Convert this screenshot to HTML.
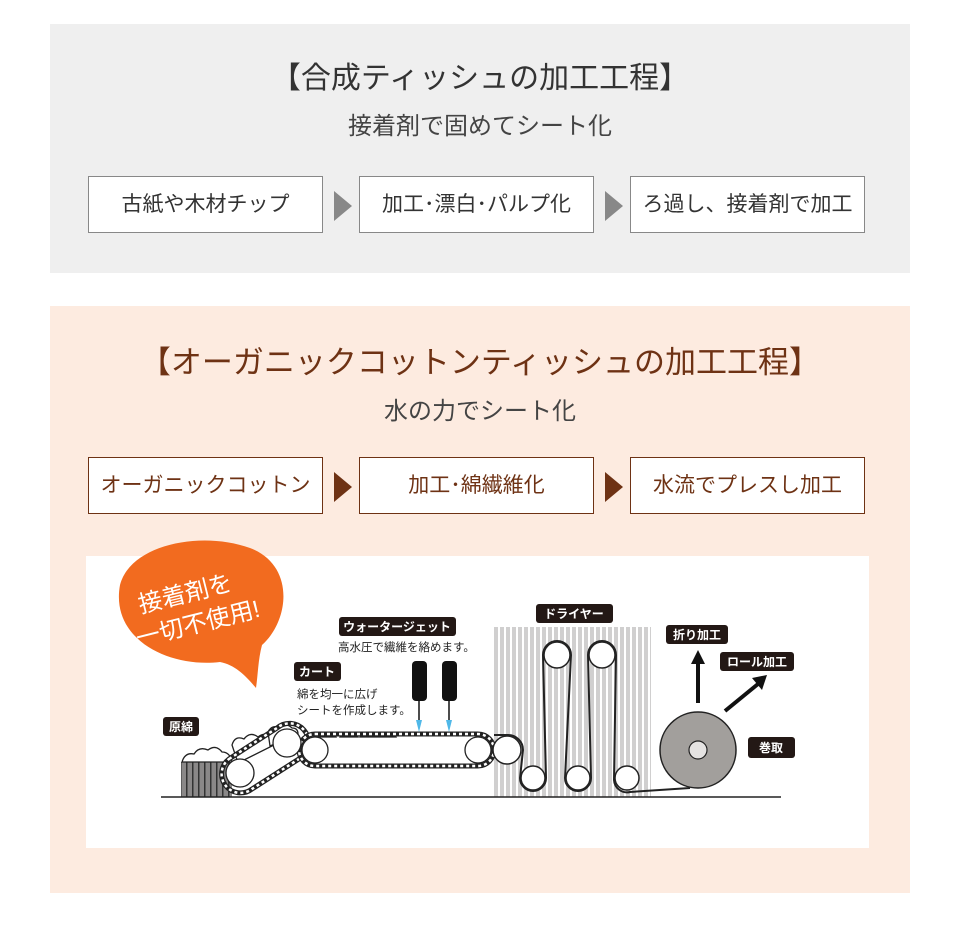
<!DOCTYPE html>
<html><head><meta charset="utf-8"><style>
html,body{margin:0;padding:0;background:#fff;}
body{width:960px;height:947px;position:relative;overflow:hidden;font-family:"Liberation Sans","Noto Sans CJK JP",sans-serif;}
.panel{position:absolute;left:50px;width:860px;}
.t{position:absolute;left:0;width:100%;text-align:center;white-space:nowrap;}
.box{position:absolute;width:235px;height:57px;background:#fff;box-sizing:border-box;text-align:center;line-height:55px;font-size:21px;white-space:nowrap;}
.tri{position:absolute;width:0;height:0;border-top:15px solid transparent;border-bottom:15px solid transparent;border-left:18px solid #888;}
</style></head><body>
<div class="panel" style="top:24px;height:249px;background:#efefef;">
  <div class="t" style="top:29px;font-size:30px;color:#333;">【合成ティッシュの加工工程】</div>
  <div class="t" style="top:82px;font-size:24px;color:#444;">接着剤で固めてシート化</div>
  <div class="box" style="left:38px;top:152px;border:1px solid #888;color:#333;">古紙や木材チップ</div>
  <div class="tri" style="left:284px;top:167px;"></div>
  <div class="box" style="left:309px;top:152px;border:1px solid #888;color:#333;">加工･漂白･パルプ化</div>
  <div class="tri" style="left:555px;top:167px;"></div>
  <div class="box" style="left:580px;top:152px;border:1px solid #888;color:#333;">ろ過し、接着剤で加工</div>
</div>
<div class="panel" style="top:306px;height:587px;background:#fdebe0;">
  <div class="t" style="top:31px;font-size:31px;color:#6e3214;">【オーガニックコットンティッシュの加工工程】</div>
  <div class="t" style="top:85px;font-size:24px;color:#444;">水の力でシート化</div>
  <div class="box" style="left:38px;top:151px;border:1px solid #6e3214;color:#6e3214;">オーガニックコットン</div>
  <div class="tri" style="left:284px;top:166px;border-left-color:#6e3214;"></div>
  <div class="box" style="left:309px;top:151px;border:1px solid #6e3214;color:#6e3214;">加工･綿繊維化</div>
  <div class="tri" style="left:555px;top:166px;border-left-color:#6e3214;"></div>
  <div class="box" style="left:580px;top:151px;border:1px solid #6e3214;color:#6e3214;">水流でプレスし加工</div>
  <div style="position:absolute;left:36px;top:250px;width:783px;height:292px;background:#fff;"></div>
</div>
<svg width="960" height="947" style="position:absolute;left:0;top:0" font-family="Liberation Sans, Noto Sans CJK JP, sans-serif">
  <defs>
    <pattern id="st" width="6" height="10" patternUnits="userSpaceOnUse"><rect width="6" height="10" fill="#d0cfcf"/><rect width="2" height="10" fill="#fff"/></pattern>
    <pattern id="st2" width="6" height="10" patternUnits="userSpaceOnUse"><rect width="6" height="10" fill="#8a8888"/><rect width="1.5" height="10" fill="#333"/></pattern>
  </defs>
  <path d="M120,585 C130,545 200,530 250,548 C295,565 290,620 262,645 C258,660 258,675 256,688 C245,675 235,665 220,662 C170,668 110,640 120,585 Z" fill="#f26b1f"/>
  <g transform="rotate(-14 195 612)" fill="#fff" font-size="24" text-anchor="middle">
    <text x="190" y="600">接着剤を</text>
    <text x="195" y="632">一切不使用!</text>
  </g>
  <rect x="493" y="627" width="158" height="170" fill="url(#st)"/>
  <rect x="181" y="762" width="51" height="35" fill="url(#st2)"/>
  <g fill="#fff" stroke="#222" stroke-width="1.3">
    <path d="M182,762 q3,-10 12,-8 q5,-8 14,-4 q8,-6 14,2 q8,0 10,10 z"/>
    <path d="M232,745 q3,-10 12,-6 q6,-8 14,-2 q8,-6 12,2 q6,0 8,4 l-40,20z"/>
    <path d="M268,732 q4,-8 12,-4 q6,-6 12,0 q6,0 6,6 l-28,12z"/>
    <path d="M318,737 q3,-7 10,-3 q5,-4 8,3z M340,737 q3,-7 10,-3 q5,-4 8,3z M360,737 q3,-7 10,-3 q5,-4 8,3z M378,737 q3,-7 10,-3 q5,-4 8,3z"/>
  </g>
  <g fill="none" stroke="#222">
    <path d="M229,759 L277,728 A18,18 0 0 1 302,757 L252,789 A18,18 0 0 1 229,759 Z" stroke-width="5"/>
    <path d="M229,759 L277,728 A18,18 0 0 1 302,757 L252,789 A18,18 0 0 1 229,759 Z" stroke="#fff" stroke-width="2.5" stroke-dasharray="3 3"/>
    <path d="M315,734 L478,734 A16,16 0 0 1 478,766 L315,766 A16,16 0 0 1 315,734 Z" stroke-width="5"/>
    <path d="M315,734 L478,734 A16,16 0 0 1 478,766 L315,766 A16,16 0 0 1 315,734 Z" stroke="#fff" stroke-width="2.5" stroke-dasharray="3 3"/>
  </g>
  <g fill="#fff" stroke="#222" stroke-width="1.3">
    <circle cx="240" cy="773" r="14"/><circle cx="287" cy="743" r="14"/>
    <circle cx="315" cy="750" r="13"/><circle cx="478" cy="750" r="13"/>
  </g>
  <path d="M494,735 L508,735 A15,15 0 0 1 523,750 L520,778 A13,13 0 0 0 546,778 L543,655 A14,14 0 0 1 571,655 L565,778 A13,13 0 0 0 591,778 L588,655 A14,14 0 0 1 616,655 L614,780 A13,13 0 0 0 630,792 L690,788" fill="none" stroke="#222" stroke-width="2"/>
  <g fill="#fff" stroke="#222" stroke-width="1.5">
    <circle cx="507" cy="750" r="14"/>
    <circle cx="557" cy="655" r="13"/><circle cx="602" cy="655" r="13"/>
    <circle cx="533" cy="778" r="12"/><circle cx="578" cy="778" r="12"/><circle cx="627" cy="778" r="12"/>
  </g>
  <circle cx="698" cy="750" r="38" fill="#a29f9c" stroke="#222" stroke-width="1.5"/>
  <circle cx="698" cy="750" r="9" fill="#e5e3e2" stroke="#222" stroke-width="1.2"/>
  <line x1="161" y1="797" x2="781" y2="797" stroke="#222" stroke-width="1.5"/>
  <line x1="698" y1="703" x2="698" y2="662" stroke="#111" stroke-width="4"/>
  <path d="M691,664 L698,650 L705,664Z" fill="#111"/>
  <line x1="725" y1="711" x2="758" y2="684" stroke="#111" stroke-width="4"/>
  <path d="M752,678 L767,675 L762,690Z" fill="#111"/>
  <rect x="412" y="661" width="15" height="40" rx="4" fill="#111"/>
  <rect x="442" y="661" width="15" height="40" rx="4" fill="#111"/>
  <line x1="419" y1="700" x2="419" y2="720" stroke="#111" stroke-width="1.5"/>
  <line x1="449" y1="700" x2="449" y2="720" stroke="#111" stroke-width="1.5"/>
  <path d="M416,720 l3,12 l3,-12z M446,720 l3,12 l3,-12z" fill="#4fb8e8"/>
  <g fill="#231815">
    <rect x="163" y="717" width="36" height="19" rx="3"/>
    <rect x="294" y="662" width="47" height="19" rx="3"/>
    <rect x="339" y="617" width="117" height="19" rx="3"/>
    <rect x="536" y="604" width="77" height="19" rx="3"/>
    <rect x="666" y="625" width="62" height="19" rx="3"/>
    <rect x="720" y="652" width="74" height="19" rx="3"/>
    <rect x="748" y="737" width="47" height="21" rx="3"/>
  </g>
  <g fill="#fff" font-size="12" font-weight="bold" text-anchor="middle">
    <text x="181" y="731">原綿</text>
    <text x="317" y="676">カート</text>
    <text x="397" y="631">ウォータージェット</text>
    <text x="574" y="618">ドライヤー</text>
    <text x="697" y="639">折り加工</text>
    <text x="757" y="666">ロール加工</text>
    <text x="771" y="752">巻取</text>
  </g>
  <g fill="#222" font-size="11.5">
    <text x="338" y="651">高水圧で繊維を絡めます。</text>
    <text x="297" y="698">綿を均一に広げ</text>
    <text x="297" y="714">シートを作成します。</text>
  </g>
</svg>
</body></html>
